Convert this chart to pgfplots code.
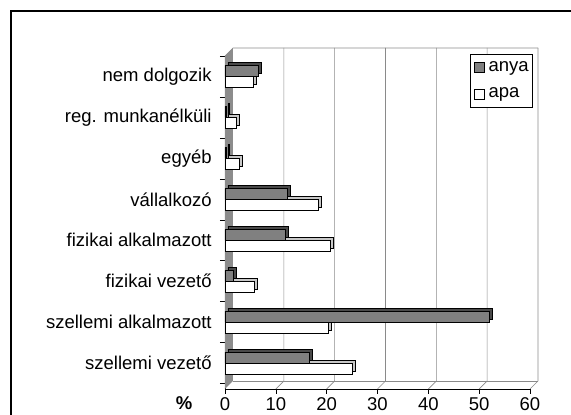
\documentclass[border=0pt]{standalone}
\usepackage{fontspec}
\setmainfont{Liberation Sans}
\usepackage{pgfplots}
\pgfplotsset{compat=1.18}
\definecolor{anyafill}{HTML}{808080}
\definecolor{anyatop}{HTML}{4A4A4A}
\definecolor{apatop}{HTML}{C8C8C8}
\definecolor{wallgray}{HTML}{8C8C8C}
\definecolor{gridgray}{HTML}{8A8A8A}
\begin{document}
\fontsize{18.5}{21}\selectfont
\begin{tikzpicture}[x=1pt,y=1pt]
\useasboundingbox (0,0) rectangle (571,415);
\draw[line width=2pt] (11,-2) -- (11,404) -- (575,404);
\begin{axis}[
  at={(225pt,26pt)}, anchor=south west,
  scale only axis, width=305pt, height=333pt,
  xmin=0, xmax=60, ymin=-0.63, ymax=7.5,
  clip=false,
  axis x line*=bottom, axis y line*=left,
  axis line style={black, line width=0.8pt, -},
  xtick={0,10,...,60},
  xticklabel style={yshift=3pt},
  tick align=outside, major tick length=5pt,
  tick style={black, line width=0.6pt},
  ytick={-0.5,0.5,...,7.5},
  y tick label as interval,
  yticklabels={szellemi vezető,szellemi alkalmazott,fizikai vezető,fizikai alkalmazott,vállalkozó,egyéb,reg. munkanélküli,nem dolgozik},
  yticklabel style={xshift=-2pt},
  /pgf/number format/assume math mode=true,
  legend style={at={(1,1)}, anchor=north east, xshift=3pt, yshift=2pt,
    draw=black, line width=0.6pt, fill=white, inner xsep=2pt, inner ysep=5pt,
    row sep=10pt, font=\fontsize{18.5}{21}\selectfont},
  legend cell align=left,
  legend image code/.code={\draw[#1, line width=0.6pt] (0pt,-5pt) rectangle (10pt,5pt);
    \path[draw=none, fill=none] (-2pt,0pt) -- (12pt,0pt);},
]
% walls and gridlines
\fill[wallgray] (axis cs:0,-0.63) -- (axis cs:0,7.5) -- ([shift={(8pt,8pt)}]axis cs:0,7.5) -- ([shift={(8pt,8pt)}]axis cs:0,-0.63) -- cycle;
\draw[gridgray, line width=0.6pt] (axis cs:0,7.5) -- ([shift={(8pt,8pt)}]axis cs:0,7.5) -- ([shift={(8pt,8pt)}]axis cs:60,7.5);
\draw[gridgray, line width=0.6pt] ([shift={(8pt,8pt)}]axis cs:0,-0.63) -- ([shift={(8pt,8pt)}]axis cs:60,-0.63);
\pgfplotsinvokeforeach{10,20,...,60}{
  \draw[gridgray, line width=0.6pt] (axis cs:#1,-0.63) -- ([shift={(8pt,8pt)}]axis cs:#1,-0.63) -- ([shift={(8pt,8pt)}]axis cs:#1,7.5);
}
\node[font=\bfseries\fontsize{18.5}{21}\selectfont] at ([xshift=-41pt,yshift=-14pt]axis cs:0,-0.63) {\%};

\addlegendimage{fill=anyafill, draw=black}
\addlegendentry{anya}
\addlegendimage{fill=white, draw=black}
\addlegendentry{apa}

% apa
\addplot[xbar, bar width=11pt, bar shift=-5.5pt, fill=apatop, draw=black, line width=0.6pt,
  xshift=3pt, yshift=3pt, forget plot] coordinates {
  (25,0) (20.3,1) (5.8,2) (20.8,3) (18.4,4) (2.8,5) (2.3,6) (5.5,7)};
\addplot[xbar, bar width=11pt, bar shift=-5.5pt, fill=white, draw=black, line width=0.6pt,
  forget plot] coordinates {
  (25,0) (20.3,1) (5.8,2) (20.8,3) (18.4,4) (2.8,5) (2.3,6) (5.5,7)};
% anya
\addplot[xbar, bar width=11pt, bar shift=5.5pt, fill=anyatop, draw=black, line width=0.6pt,
  xshift=3pt, yshift=3pt, forget plot] coordinates {
  (16.5,0) (52,1) (1.7,2) (11.8,3) (12.2,4) (0.3,5) (0.3,6) (6.5,7)};
\addplot[xbar, bar width=11pt, bar shift=5.5pt, fill=anyafill, draw=black, line width=0.6pt,
  forget plot] coordinates {
  (16.5,0) (52,1) (1.7,2) (11.8,3) (12.2,4) (0.3,5) (0.3,6) (6.5,7)};
\end{axis}
\end{tikzpicture}
\end{document}
